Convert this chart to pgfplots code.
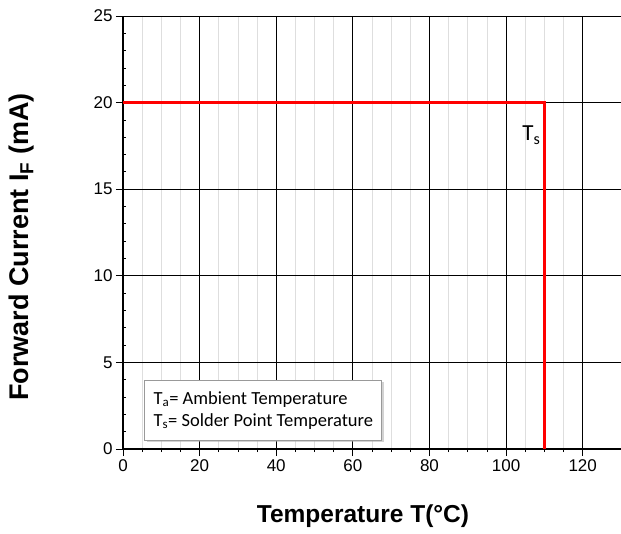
\documentclass[border=0pt]{standalone}
\usepackage{pgfplots}
\pgfplotsset{compat=1.18}
\usepackage{fontspec}
\setmainfont{Liberation Sans}
\newfontfamily\calibri{Carlito}
\usetikzlibrary{shadows}

\begin{document}
\begin{tikzpicture}
\begin{axis}[
    scale only axis,
    width=498pt, height=433pt,
    xmin=0, xmax=130, ymin=0, ymax=25,
    xtick={0,20,...,120}, ytick={0,5,...,25},
    minor x tick num=3, minor y tick num=4,
    xmajorgrids, xminorgrids, ymajorgrids,
    major grid style={black, line width=0.8pt},
    minor grid style={black!13, line width=0.8pt},
    axis lines*=left,
    axis line style={black, line width=1.4pt, -},
    tick align=outside,
    major tick length=7pt, minor tick length=3pt,
    tick style={black, line width=0.8pt},
    minor y tick style={xshift=3.5pt},
    /pgf/number format/assume math mode=true,
    tick label style={font=\fontsize{17}{17}\selectfont},
    clip=false,
]
\addplot[red, line width=2.5pt] coordinates {(0,20)(110,20)(110,0)};
\coordinate (o) at (axis cs:0,0);
\node[font=\calibri\fontsize{23}{23}\selectfont] at (axis cs:106.6,18.1) {T\textsubscript{s}};
\node[draw=black!40, fill=white, line width=0.8pt, drop shadow={shadow xshift=2pt, shadow yshift=-2pt, fill=black!35},
      anchor=north west, align=left, inner xsep=3pt, inner ysep=4pt,
      font=\calibri\fontsize{18.5}{22}\selectfont,
      minimum width=237pt, minimum height=60pt]
  at (axis cs:5.6,4.0) {T\textsubscript{a}= Ambient Temperature\\T\textsubscript{s}= Solder Point Temperature};
\end{axis}
\node[font=\bfseries\fontsize{24.5}{24.5}\selectfont] at ([shift={(240pt,-67pt)}]o) {Temperature T(°C)};
\node[font=\bfseries\fontsize{27}{27}\selectfont, rotate=90] at ([shift={(-101pt,202pt)}]o) {Forward Current I\textsubscript{F} (mA)};
\pgfresetboundingbox
\path[use as bounding box] ([shift={(-123pt,-84pt)}]o) rectangle ([shift={(498pt,449pt)}]o);
\end{tikzpicture}
\end{document}
